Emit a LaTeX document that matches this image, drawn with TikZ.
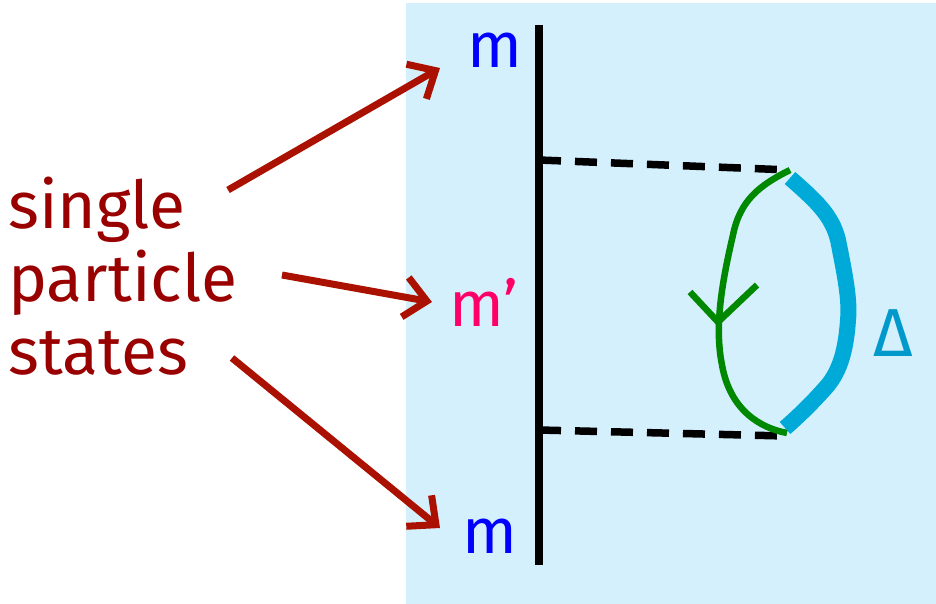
\documentclass[tikz,border=0pt]{standalone}
\usepackage{fontspec}
\setmainfont{Fira Sans}
\usetikzlibrary{arrows.meta}
\definecolor{bgblue}{HTML}{D5F0FD}
\definecolor{darkred}{HTML}{990000}
\definecolor{arrred}{HTML}{AA1100}
\definecolor{mblue}{HTML}{0000FF}
\definecolor{mpink}{HTML}{FF0066}
\definecolor{loopgreen}{HTML}{008800}
\definecolor{deltablue}{HTML}{00AAD8}
\definecolor{deltatext}{HTML}{0099CC}
\tikzset{
  redarrow/.style={draw=arrred, line width=7pt, -{Straight Barb[length=22pt,width=40pt,line width=7pt]}},
  mlabel/.style={font=\fontsize{64}{64}\selectfont\mdseries, inner sep=0pt},
  dashline/.style={draw=black, line width=7.5pt, dash pattern=on 22pt off 14pt},
}
\begin{document}
\begin{tikzpicture}[x=1pt,y=-1pt]
\useasboundingbox (0,0) rectangle (936,604);
\fill[bgblue] (406,3) rectangle (936,604);
% labels
\node[font=\fontsize{66}{73}\selectfont, text=darkred, align=left, anchor=west, inner sep=0pt] (sps) at (8,276) {single\\particle\\states};
\coordinate (a1s) at (228,190);
\coordinate (a2s) at (282,275);
\coordinate (a3s) at (232,358);
\node[mlabel, text=mblue] (mtop) at (495,50) {m};
\node[mlabel, text=mpink] (mp) at (484,302) {m’};
\node[mlabel, text=mblue] (mbot) at (490,536) {m};
\coordinate (a1e) at (440,68);
\coordinate (a2e) at (432,302);
\coordinate (a3e) at (440,528);
\draw[redarrow] (a1s) -- (a1e);
\draw[redarrow] (a2s) -- (a2e);
\draw[redarrow] (a3s) -- (a3e);
% vertical line
\coordinate (vt) at (539,25);
\coordinate (vb) at (539,565);
\draw[line width=7.5pt] (vt) -- (vb);
\coordinate (d1l) at (539,160);
\coordinate (d1r) at (790,170);
\coordinate (d2l) at (539,430);
\coordinate (d2r) at (785,436);
\draw[dashline] (d1l) -- (d1r);
\draw[dashline] (d2l) -- (d2r);
% blue delta curve
\draw[deltablue, line width=16pt] (790,178) .. controls (815,200) and (832,215) .. (838,240)
  .. controls (845,275) and (850,300) .. (848,320)
  .. controls (846,350) and (840,370) .. (828,385)
  .. controls (815,400) and (800,415) .. (785,428);
% green loop
\draw[loopgreen, line width=6.5pt] (d1r) .. controls (760,185) and (740,200) .. (733,235)
  .. controls (720,290) and (715,330) .. (722,365)
  .. controls (730,410) and (760,428) .. (787,433);
\coordinate (gc) at (718,322);
\draw[loopgreen, line width=6.5pt] (690,292) -- (gc) -- (757,285);
\node[font=\fontsize{68}{68}\selectfont\mdseries, text=deltatext, inner sep=0pt] (delta) at (893,333) {Δ};
\end{tikzpicture}
\end{document}
